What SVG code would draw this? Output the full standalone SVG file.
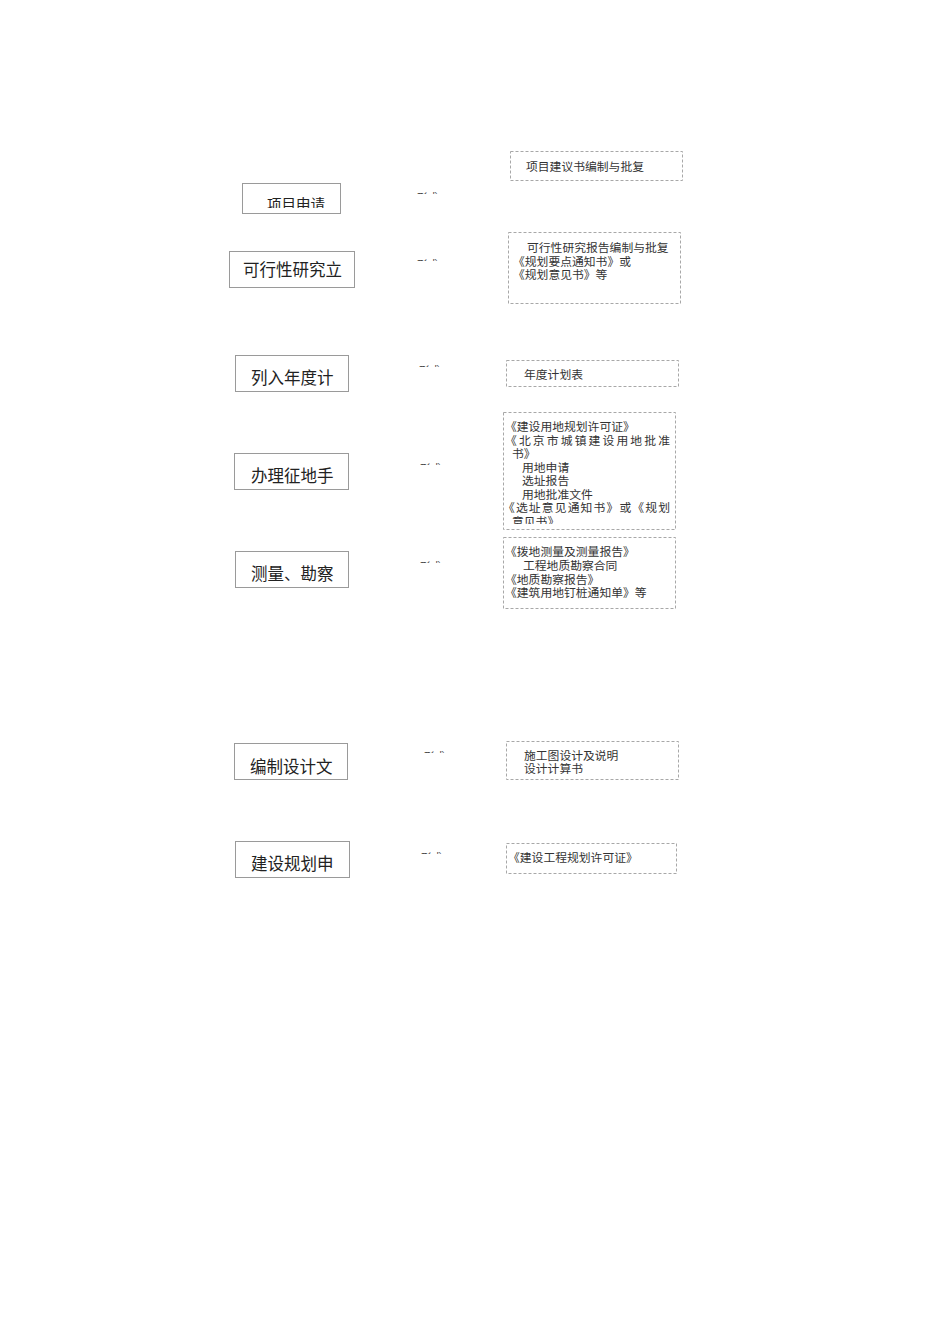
<svg xmlns="http://www.w3.org/2000/svg" width="950" height="1344" viewBox="0 0 950 1344">
<style>
.bg{fill:#ffffff}
.step{fill:#ffffff;stroke:#9a9a9a;stroke-width:1}
.doc{fill:#ffffff;stroke:#a8a8a8;stroke-width:1;stroke-dasharray:3 2}
.st{font-family:"Noto Sans CJK SC","Noto Sans",sans-serif;font-size:16.5px;fill:#222}
.st1{font-family:"Noto Sans CJK SC","Noto Sans",sans-serif;font-size:14.5px;fill:#222}
.dt{font-family:"Noto Sans CJK SC","Noto Sans",sans-serif;font-size:11.8px;fill:#333}
.lab{font-family:"Noto Sans CJK SC","Noto Sans",sans-serif;font-size:10.5px;fill:#444}
</style>
<defs>
<clipPath id="c1"><rect x="243" y="185" width="96" height="23"/></clipPath>
<clipPath id="c4"><rect x="504" y="413" width="171" height="111"/></clipPath>
<clipPath id="l1"><rect x="410" y="190" width="40" height="4"/></clipPath>
<clipPath id="l2"><rect x="410" y="257" width="40" height="4"/></clipPath>
<clipPath id="l3"><rect x="410" y="363" width="40" height="4"/></clipPath>
<clipPath id="l4"><rect x="410" y="461" width="40" height="4"/></clipPath>
<clipPath id="l5"><rect x="410" y="559" width="40" height="4"/></clipPath>
<clipPath id="l6"><rect x="415" y="748" width="40" height="5"/></clipPath>
<clipPath id="l7"><rect x="415" y="849" width="40" height="5"/></clipPath>
</defs>
<rect class="bg" x="0" y="0" width="950" height="1344"/>

<g id="step1">
<rect class="step" x="242.5" y="183.5" width="98" height="30"/>
<text class="st1" x="267" y="210" clip-path="url(#c1)">项目申请</text>
</g>
<g id="step2">
<rect class="step" x="229.5" y="251.5" width="125" height="36"/>
<text class="st" x="243" y="275.5">可行性研究立</text>
</g>
<g id="step3">
<rect class="step" x="235.5" y="355.5" width="113" height="36"/>
<text class="st" x="251" y="384">列入年度计</text>
</g>
<g id="step4">
<rect class="step" x="234.5" y="453.5" width="114" height="36"/>
<text class="st" x="251" y="481.5">办理征地手</text>
</g>
<g id="step5">
<rect class="step" x="235.5" y="551.5" width="113" height="36"/>
<text class="st" x="251" y="579.5">测量、勘察</text>
</g>
<g id="step6">
<rect class="step" x="234.5" y="743.5" width="113" height="36"/>
<text class="st" x="250" y="772.5">编制设计文</text>
</g>
<g id="step7">
<rect class="step" x="235.5" y="841.5" width="114" height="36"/>
<text class="st" x="251" y="870">建设规划申</text>
</g>

<g id="connectors">
<text class="lab" x="417" y="201" clip-path="url(#l1)">形成</text>
<text class="lab" x="417" y="268" clip-path="url(#l2)">形成</text>
<text class="lab" x="419" y="374" clip-path="url(#l3)">形成</text>
<text class="lab" x="420" y="472" clip-path="url(#l4)">形成</text>
<text class="lab" x="420" y="570" clip-path="url(#l5)">形成</text>
<text class="lab" x="424" y="760" clip-path="url(#l6)">形成</text>
<text class="lab" x="421" y="861" clip-path="url(#l7)">形成</text>
</g>

<g id="doc1">
<rect class="doc" x="510.5" y="151.5" width="172" height="29"/>
<text class="dt" x="526" y="171">项目建议书编制与批复</text>
</g>
<g id="doc2">
<rect class="doc" x="508.5" y="232.5" width="172" height="71"/>
<text class="dt" x="527" y="252">可行性研究报告编制与批复</text>
<text class="dt" x="513" y="266">《规划要点通知书》或</text>
<text class="dt" x="513" y="279">《规划意见书》等</text>
</g>
<g id="doc3">
<rect class="doc" x="506.5" y="360.5" width="172" height="26"/>
<text class="dt" x="524" y="378.5">年度计划表</text>
</g>
<g id="doc4">
<rect class="doc" x="503.5" y="412.5" width="172" height="117"/>
<g clip-path="url(#c4)">
<text class="dt" x="505" y="431">《建设用地规划许可证》</text>
<text class="dt" x="505" y="444.5" textLength="165">《北京市城镇建设用地批准</text>
<text class="dt" x="512" y="458">书》</text>
<text class="dt" x="522" y="471.5">用地申请</text>
<text class="dt" x="522" y="485">选址报告</text>
<text class="dt" x="522" y="498.5">用地批准文件</text>
<text class="dt" x="503" y="512" textLength="167">《选址意见通知书》或《规划</text>
<text class="dt" x="512" y="525.5">意见书》</text>
</g>
</g>
<g id="doc5">
<rect class="doc" x="503.5" y="537.5" width="172" height="71"/>
<text class="dt" x="505" y="556">《拨地测量及测量报告》</text>
<text class="dt" x="523" y="570">工程地质勘察合同</text>
<text class="dt" x="505" y="583.5">《地质勘察报告》</text>
<text class="dt" x="505" y="597">《建筑用地钉桩通知单》等</text>
</g>
<g id="doc6">
<rect class="doc" x="506.5" y="741.5" width="172" height="38"/>
<text class="dt" x="524" y="760">施工图设计及说明</text>
<text class="dt" x="524" y="773">设计计算书</text>
</g>
<g id="doc7">
<rect class="doc" x="506.5" y="843.5" width="170" height="30"/>
<text class="dt" x="508" y="862">《建设工程规划许可证》</text>
</g>
</svg>
